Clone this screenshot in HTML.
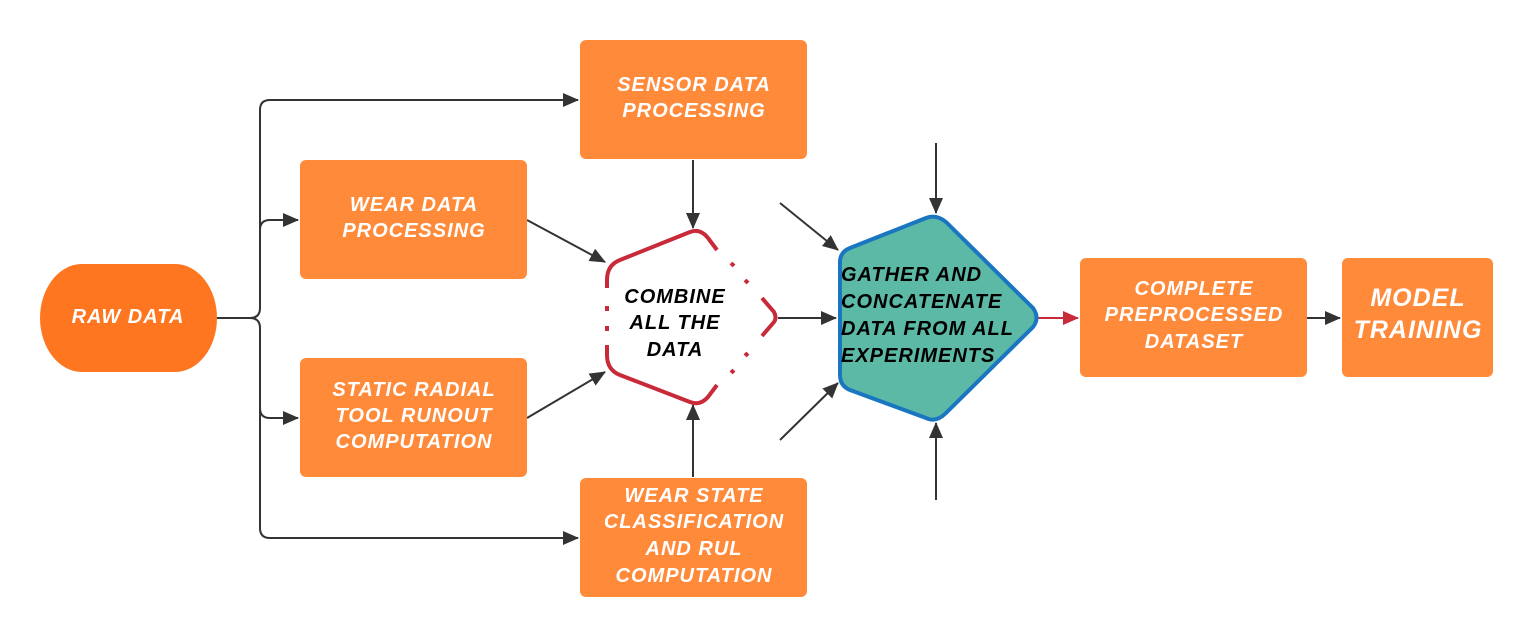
<!DOCTYPE html>
<html><head><meta charset="utf-8"><style>
html,body{margin:0;padding:0;background:#fff;width:1534px;height:638px;overflow:hidden}
svg text{font-family:"Liberation Sans",sans-serif;font-weight:bold;font-style:italic;letter-spacing:1px}
</style></head><body>
<svg width="1534" height="638" viewBox="0 0 1534 638" xmlns="http://www.w3.org/2000/svg">
<defs>
<marker id="a" markerWidth="16" markerHeight="14" refX="15" refY="7" orient="auto" markerUnits="userSpaceOnUse" viewBox="0 0 16 14"><path d="M0,0L16,7L0,14z" fill="#333"/></marker>
<marker id="r" markerWidth="16" markerHeight="14" refX="15" refY="7" orient="auto" markerUnits="userSpaceOnUse" viewBox="0 0 16 14"><path d="M0,0L16,7L0,14z" fill="#c92a3a"/></marker>
</defs>
<g fill="none" stroke="#333" stroke-width="2">
<path d="M216,318 H250 Q260,318 260,308 V110 Q260,100 270,100 H578" marker-end="url(#a)"/>
<path d="M260,230 Q260,220 270,220 H298" marker-end="url(#a)"/>
<path d="M216,318 H250 Q260,318 260,328 V528 Q260,538 270,538 H578" marker-end="url(#a)"/>
<path d="M260,408 Q260,418 270,418 H298" marker-end="url(#a)"/>
<path d="M693,160 V228" marker-end="url(#a)"/>
<path d="M693,477 V405" marker-end="url(#a)"/>
<path d="M527,220 L605,262" marker-end="url(#a)"/>
<path d="M527,418 L605,372" marker-end="url(#a)"/>
<path d="M778,318 H836" marker-end="url(#a)"/>
<path d="M780,203 L838,250" marker-end="url(#a)"/>
<path d="M780,440 L838,383" marker-end="url(#a)"/>
<path d="M936,143 V213" marker-end="url(#a)"/>
<path d="M936,500 V423" marker-end="url(#a)"/>
<path d="M1307,318 H1340" marker-end="url(#a)"/>
</g>
<path d="M1038,318 H1078" stroke="#c92a3a" stroke-width="2" marker-end="url(#r)"/>
<rect x="40" y="264" width="177" height="108" rx="42" ry="54" fill="#ff7620"/>
<g fill="#ff8a3a">
<rect x="580" y="40" width="227" height="119" rx="6"/>
<rect x="300" y="160" width="227" height="119" rx="6"/>
<rect x="300" y="358" width="227" height="119" rx="6"/>
<rect x="580" y="478" width="227" height="119" rx="6"/>
<rect x="1080" y="258" width="227" height="119" rx="6"/>
<rect x="1342" y="258" width="151" height="119" rx="6"/>
</g>
<path d="M607,280 Q607,265 620,260 L690,232 Q700,228 708,238 L717,250" fill="none" stroke="#c92a3a" stroke-width="4"/>
<path d="M731,263 l3,3 M745,280 l3,3" stroke="#c92a3a" stroke-width="4"/>
<path d="M762,298 L774,312 Q777,318 774,322 L762,336" fill="none" stroke="#c92a3a" stroke-width="4"/>
<path d="M745,353 l3,3 M731,370 l3,3" stroke="#c92a3a" stroke-width="4"/>
<path d="M717,385 L708,397 Q700,406 690,402 L620,375 Q607,370 607,355 V345" fill="none" stroke="#c92a3a" stroke-width="4"/>
<path d="M607,280 V288 M607,306 V311 M607,326 V331" stroke="#c92a3a" stroke-width="4"/>
<path d="M850,248 L926,218 Q936,214 946,222 L1033,308 Q1040,318 1033,327 L946,413 Q936,423 926,418 L850,390 Q840,386 840,375 V262 Q840,252 850,248 Z" fill="#5bb9a6" stroke="#1a76c0" stroke-width="4"/>
<g fill="#fff" font-size="20" text-anchor="middle">
<text x="128" y="323">RAW DATA</text>
<text x="694" y="91">SENSOR DATA</text><text x="694" y="117">PROCESSING</text>
<text x="414" y="211">WEAR DATA</text><text x="414" y="237">PROCESSING</text>
<text x="414" y="396">STATIC RADIAL</text><text x="414" y="422">TOOL RUNOUT</text><text x="414" y="448">COMPUTATION</text>
<text x="694" y="502">WEAR STATE</text><text x="694" y="528">CLASSIFICATION</text><text x="694" y="555">AND RUL</text><text x="694" y="582">COMPUTATION</text>
<text x="1194" y="295">COMPLETE</text><text x="1194" y="321">PREPROCESSED</text><text x="1194" y="348">DATASET</text>
<text x="1418" y="306" font-size="25">MODEL</text><text x="1418" y="338" font-size="25">TRAINING</text>
</g>
<g fill="#000" font-size="20">
<text x="675" y="303" text-anchor="middle">COMBINE</text><text x="675" y="329" text-anchor="middle">ALL THE</text><text x="675" y="356" text-anchor="middle">DATA</text>
<text x="841" y="281">GATHER AND</text><text x="841" y="308">CONCATENATE</text><text x="841" y="335">DATA FROM ALL</text><text x="841" y="362">EXPERIMENTS</text>
</g>
</svg>
</body></html>
